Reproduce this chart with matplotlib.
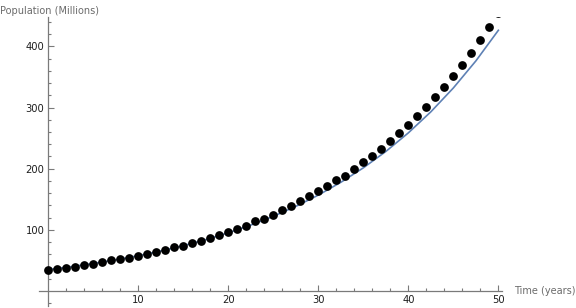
import matplotlib
matplotlib.use('Agg')
import matplotlib.pyplot as plt

# population samples (millions), one per year
years = list(range(51))
population = [35.0, 36.6, 37.7, 39.3, 42.6, 44.8, 47.0, 50.3, 52.5, 54.2,
              57.9, 61.1, 64.4, 67.7, 71.6, 74.3, 78.7, 82.5, 87.4, 92.3,
              97.2, 101.6, 106.6, 113.6, 118.0, 124.6, 131.6, 139.3, 146.4, 154.6,
              162.8, 171.0, 180.8, 188.5, 198.9, 210.3, 221.3, 232.8, 244.8, 257.9,
              271.0, 285.7, 300.5, 316.4, 333.0, 350.8, 369.0, 389.0, 409.8, 431.6,
              454.5]

# fitted model curve, read every 2.5 years
model_t = [0, 2.5, 5, 7.5, 10, 12.5, 15, 17.5, 20, 22.5, 25, 27.5, 30,
           32.5, 35, 37.5, 40, 42.5, 45, 47.5, 50]
model_pop = [35.0, 39.66, 44.94, 50.92, 57.71, 65.39, 74.09, 83.96, 95.14,
             107.81, 122.16, 138.43, 156.86, 177.75, 201.40, 228.22, 258.60,
             293.03, 332.04, 376.24, 426.33]

x_ticks = [10, 20, 30, 40, 50]
y_ticks = [100, 200, 300, 400]

axis_gray = '#7a7a7a'
label_gray = '#6b6b6b'

fig = plt.figure(figsize=(5.76, 3.08), dpi=100)
ax = fig.add_axes([0.0677, 0.0057, 0.803, 0.939])

ax.plot(model_t, model_pop, color='#5e81b5', lw=1.2, zorder=2)
ax.plot(years, population, 'o', color='black', ms=6.3, mew=0, zorder=3)

ax.set_xlim(-1.05, 50.35)
ax.set_ylim(-25, 448)

for side in ['top', 'right']:
    ax.spines[side].set_visible(False)
ax.spines['left'].set_position(('data', 0))
ax.spines['bottom'].set_position(('data', 0))
for side in ['left', 'bottom']:
    ax.spines[side].set_color(axis_gray)
    ax.spines[side].set_linewidth(0.9)

ax.set_xticks(x_ticks)
ax.set_xticks(range(2, 51, 2), minor=True)
ax.set_yticks(y_ticks)
ax.set_yticks([v for v in range(-20, 441, 20) if v != 0], minor=True)

ax.tick_params(which='both', direction='in', color=axis_gray, width=0.8,
               labelsize=7.2, labelcolor='#1e1e1e', pad=3)
ax.tick_params(which='major', length=4)
ax.tick_params(which='minor', length=2.3)

ax.text(-0.084, 1.005, 'Population (Millions)', transform=ax.transAxes,
        ha='left', va='bottom', fontsize=7, color=label_gray)
ax.text(1.027, 0.0, 'Time (years)', transform=ax.get_yaxis_transform(),
        ha='left', va='center', fontsize=7, color=label_gray)

fig.savefig('out.png', dpi=100)
